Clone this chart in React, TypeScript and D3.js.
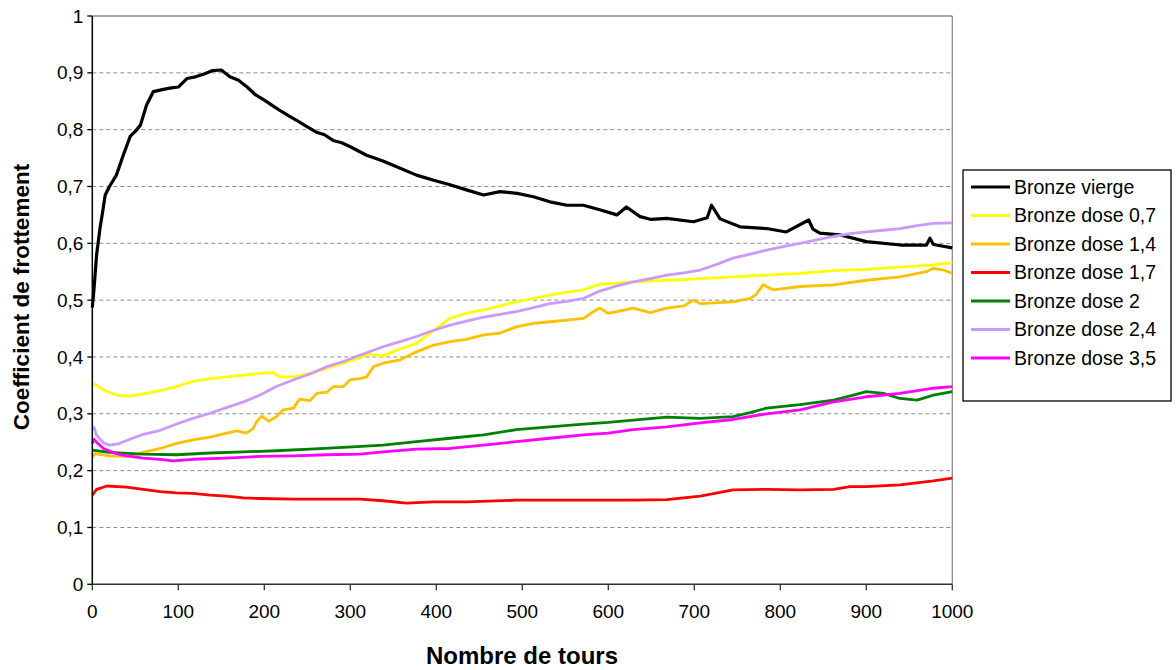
import React from "react";
import * as d3 from "d3";

type Pt = [number, number];

const seriesNames = [
  "Bronze vierge",
  "Bronze dose 0,7",
  "Bronze dose 1,4",
  "Bronze dose 1,7",
  "Bronze dose 2",
  "Bronze dose 2,4",
  "Bronze dose 3,5",
];
const seriesColors = ["#000000", "#FFFF00", "#FFC000", "#FF0000", "#008000", "#CC99FF", "#FF00FF"];

const vierge: Pt[] = [
  [0, 0.487], [2, 0.52], [5, 0.58], [9, 0.627], [12, 0.655], [15, 0.685], [20, 0.7], [28, 0.72],
  [36, 0.755], [44, 0.788], [50, 0.797], [56, 0.808], [63, 0.843], [71, 0.867], [80, 0.87], [90, 0.873],
  [100, 0.875], [110, 0.89], [120, 0.893], [130, 0.898], [140, 0.904], [150, 0.905], [160, 0.893],
  [170, 0.887], [180, 0.875], [190, 0.861], [200, 0.852], [210, 0.842], [220, 0.832], [230, 0.823],
  [240, 0.814], [250, 0.805], [260, 0.796], [270, 0.791], [280, 0.781], [290, 0.777], [300, 0.77],
  [319, 0.755], [338, 0.745], [358, 0.732], [377, 0.72], [397, 0.711], [416, 0.703], [435, 0.694],
  [455, 0.685], [474, 0.691], [494, 0.688], [513, 0.682], [532, 0.673], [552, 0.667], [571, 0.667],
  [590, 0.659], [610, 0.65], [621, 0.664], [637, 0.647], [650, 0.642], [668, 0.644], [699, 0.638],
  [715, 0.645], [720, 0.667], [730, 0.643], [753, 0.629], [784, 0.626], [807, 0.62], [833, 0.641],
  [838, 0.625], [846, 0.618], [869, 0.615], [900, 0.603], [940, 0.597], [970, 0.597], [974, 0.609],
  [978, 0.598], [1000, 0.592],
];

const dose07: Pt[] = [
  [0, 0.354], [5, 0.35], [13, 0.342], [28, 0.333], [44, 0.331], [59, 0.335], [79, 0.341], [98, 0.348],
  [117, 0.357], [137, 0.362], [156, 0.365], [176, 0.368], [195, 0.371], [210, 0.373], [218, 0.365],
  [234, 0.365], [253, 0.371], [273, 0.38], [292, 0.389], [311, 0.398], [319, 0.405], [338, 0.402],
  [358, 0.414], [377, 0.424], [397, 0.447], [416, 0.468], [435, 0.477], [455, 0.483], [474, 0.49],
  [493, 0.497], [513, 0.503], [532, 0.509], [552, 0.514], [571, 0.518], [590, 0.528], [610, 0.53],
  [629, 0.532], [668, 0.535], [707, 0.538], [745, 0.541], [784, 0.544], [823, 0.547], [862, 0.552],
  [900, 0.554], [939, 0.558], [978, 0.562], [1000, 0.566],
];

const dose14: Pt[] = [
  [0, 0.223], [3, 0.23], [20, 0.226], [40, 0.225], [52, 0.228], [59, 0.232], [79, 0.239], [98, 0.248],
  [117, 0.254], [137, 0.259], [156, 0.266], [168, 0.27], [179, 0.266], [187, 0.274], [191, 0.286],
  [197, 0.296], [205, 0.287], [214, 0.295], [222, 0.307], [234, 0.31], [241, 0.326], [253, 0.323],
  [261, 0.336], [273, 0.338], [280, 0.348], [292, 0.348], [300, 0.36], [311, 0.362], [319, 0.365],
  [327, 0.383], [338, 0.389], [358, 0.395], [377, 0.409], [397, 0.421], [416, 0.427], [435, 0.431],
  [455, 0.439], [474, 0.442], [493, 0.453], [513, 0.459], [532, 0.462], [552, 0.465], [571, 0.468],
  [583, 0.48], [590, 0.486], [600, 0.477], [610, 0.48], [629, 0.486], [649, 0.478], [668, 0.486],
  [688, 0.49], [699, 0.5], [707, 0.494], [745, 0.497], [765, 0.503], [772, 0.51], [780, 0.527],
  [792, 0.518], [823, 0.524], [862, 0.527], [900, 0.535], [939, 0.541], [970, 0.55], [978, 0.556],
  [990, 0.553], [1000, 0.547],
];

const dose17: Pt[] = [
  [0, 0.157], [5, 0.167], [17, 0.173], [40, 0.171], [59, 0.167], [79, 0.163], [98, 0.161], [117, 0.16],
  [137, 0.157], [156, 0.155], [176, 0.152], [195, 0.151], [234, 0.15], [273, 0.15], [311, 0.15],
  [338, 0.147], [365, 0.143], [397, 0.145], [435, 0.145], [493, 0.148], [571, 0.148], [629, 0.148],
  [668, 0.149], [707, 0.155], [745, 0.166], [784, 0.167], [823, 0.166], [862, 0.167], [881, 0.172],
  [900, 0.172], [939, 0.175], [978, 0.182], [1000, 0.187],
];

const dose2: Pt[] = [
  [0, 0.236], [20, 0.232], [59, 0.229], [98, 0.228], [137, 0.231], [176, 0.233], [214, 0.235],
  [253, 0.238], [292, 0.241], [338, 0.245], [377, 0.251], [416, 0.257], [455, 0.263], [493, 0.272],
  [532, 0.277], [571, 0.282], [600, 0.285], [629, 0.289], [668, 0.294], [707, 0.292], [745, 0.295],
  [765, 0.302], [784, 0.31], [823, 0.316], [862, 0.324], [885, 0.333], [900, 0.339], [920, 0.336],
  [939, 0.327], [959, 0.324], [978, 0.333], [1000, 0.339],
];

const dose24: Pt[] = [
  [0, 0.271], [2, 0.276], [5, 0.262], [13, 0.249], [20, 0.245], [30, 0.247], [40, 0.253], [59, 0.264],
  [79, 0.271], [98, 0.282], [117, 0.292], [137, 0.301], [156, 0.311], [176, 0.321], [195, 0.333],
  [214, 0.348], [234, 0.36], [253, 0.37], [273, 0.383], [292, 0.392], [311, 0.403], [338, 0.418],
  [358, 0.427], [377, 0.436], [397, 0.447], [416, 0.456], [435, 0.463], [455, 0.47], [474, 0.475],
  [493, 0.48], [513, 0.487], [532, 0.494], [552, 0.498], [571, 0.503], [590, 0.516], [610, 0.525],
  [629, 0.532], [649, 0.538], [668, 0.544], [688, 0.548], [707, 0.553], [726, 0.563], [745, 0.574],
  [765, 0.581], [784, 0.588], [803, 0.594], [823, 0.6], [842, 0.606], [862, 0.612], [881, 0.617],
  [900, 0.62], [920, 0.623], [939, 0.626], [959, 0.631], [978, 0.635], [1000, 0.636],
];

const dose35: Pt[] = [
  [0, 0.248], [2, 0.255], [5, 0.25], [13, 0.239], [28, 0.23], [40, 0.226], [59, 0.222], [79, 0.22],
  [94, 0.217], [117, 0.22], [156, 0.222], [195, 0.225], [234, 0.226], [273, 0.228], [311, 0.229],
  [338, 0.233], [377, 0.238], [416, 0.239], [455, 0.245], [493, 0.251], [532, 0.257], [571, 0.263],
  [600, 0.266], [629, 0.272], [668, 0.277], [707, 0.284], [745, 0.29], [784, 0.3], [823, 0.307],
  [862, 0.321], [900, 0.33], [939, 0.336], [978, 0.345], [1000, 0.348],
];

const allSeries = [vierge, dose07, dose14, dose17, dose2, dose24, dose35];

const xTicks = [0, 100, 200, 300, 400, 500, 600, 700, 800, 900, 1000];
const yTicks = [0, 0.1, 0.2, 0.3, 0.4, 0.5, 0.6, 0.7, 0.8, 0.9, 1];
const yTickLabels = ["0", "0,1", "0,2", "0,3", "0,4", "0,5", "0,6", "0,7", "0,8", "0,9", "1"];

const FONT = "'Liberation Sans', Arial, sans-serif";

export default function App() {
  const left = 92.3, right = 952.3, top = 16, bottom = 584.3;
  const x = d3.scaleLinear().domain([0, 1000]).range([left, right]);
  const y = d3.scaleLinear().domain([0, 1]).range([bottom, top]);
  const line = d3.line<Pt>().x((d) => x(d[0])).y((d) => y(d[1]));

  const legX = 963, legY = 170, legW = 208, legH = 231;
  const rowH = 28.5;

  return (
    <svg width={1176} height={670} style={{ position: "absolute", left: 0, top: 0 }} fontFamily={FONT}>
      <rect x={0} y={0} width={1176} height={670} fill="#fff" />
      {yTicks.slice(1, -1).map((t) => (
        <line key={t} x1={left} x2={right} y1={y(t)} y2={y(t)} stroke="#8c8c8c" strokeWidth={1} strokeDasharray="4,3" />
      ))}
      <line x1={left} x2={right} y1={y(1)} y2={y(1)} stroke="#8c8c8c" strokeWidth={1.3} />
      <line x1={right} x2={right} y1={top} y2={bottom} stroke="#8c8c8c" strokeWidth={1.3} />
      {allSeries.map((s, i) => (
        <path key={i} d={line(s) || ""} fill="none" stroke={seriesColors[i]} strokeWidth={i === 0 ? 3.2 : 2.8} strokeLinejoin="round" />
      ))}
      <line x1={left} x2={left} y1={top} y2={bottom} stroke="#000" strokeWidth={1.5} />
      <line x1={left} x2={right} y1={bottom} y2={bottom} stroke="#333" strokeWidth={1.5} />
      {yTicks.map((t, i) => (
        <g key={t}>
          <line x1={left - 5} x2={left} y1={y(t)} y2={y(t)} stroke="#000" strokeWidth={1.3} />
          <text x={left - 9} y={y(t)} dy="0.35em" textAnchor="end" fontSize={19} fill="#000">
            {yTickLabels[i]}
          </text>
        </g>
      ))}
      {xTicks.map((t) => (
        <g key={t}>
          <line x1={x(t)} x2={x(t)} y1={bottom} y2={bottom + 6} stroke="#333" strokeWidth={1.3} />
          <text x={x(t)} y={bottom + 34} textAnchor="middle" fontSize={19} fill="#000">
            {t}
          </text>
        </g>
      ))}
      <text x={522} y={664} textAnchor="middle" fontSize={24} fontWeight="bold" fill="#000">
        Nombre de tours
      </text>
      <text
        transform={`translate(29,297) rotate(-90)`}
        textAnchor="middle"
        fontSize={22.5}
        fontWeight="bold"
        fill="#000"
      >
        Coefficient de frottement
      </text>
      <rect x={legX} y={legY} width={legW} height={legH} fill="#fff" stroke="#000" strokeWidth={1.3} />
      {seriesNames.map((n, i) => {
        const cy = legY + 17 + rowH * i;
        return (
          <g key={n}>
            <line x1={legX + 8} x2={legX + 47} y1={cy} y2={cy} stroke={seriesColors[i]} strokeWidth={2.8} />
            <text x={legX + 51} y={cy} dy="0.35em" fontSize={19.5} fill="#000">
              {n}
            </text>
          </g>
        );
      })}
    </svg>
  );
}
